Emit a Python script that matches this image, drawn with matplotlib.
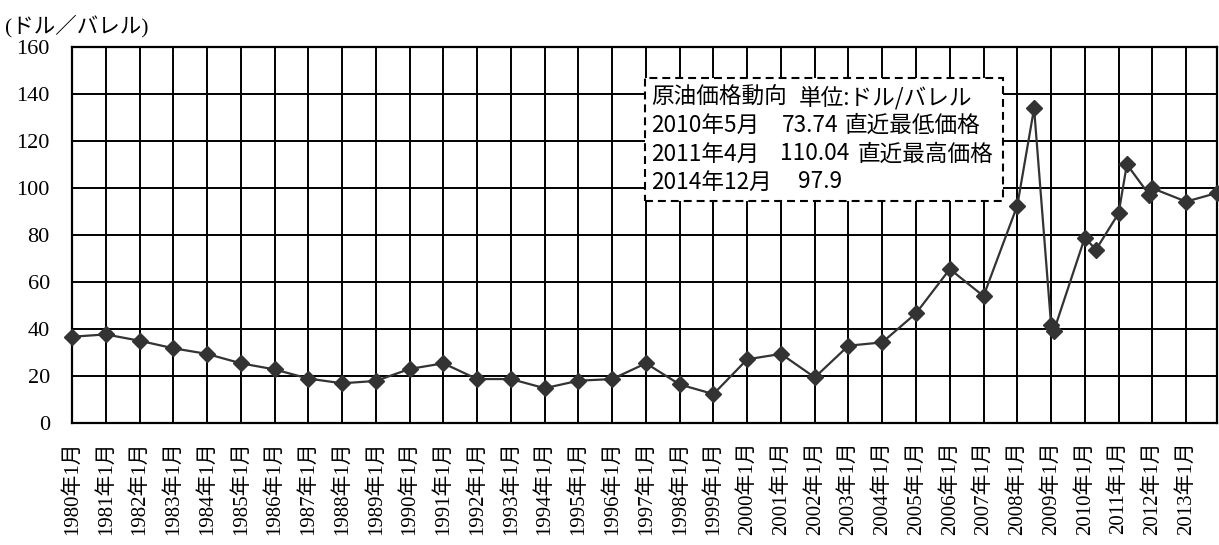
import matplotlib
matplotlib.use("Agg")
import matplotlib.pyplot as plt
from matplotlib.patches import Rectangle
from matplotlib.transforms import ScaledTranslation
import pandas as pd

# ---- data ----
years = [1980, 1981, 1982, 1983, 1984, 1985, 1986, 1987, 1988, 1989,
         1990, 1991, 1992, 1993, 1994, 1995, 1996, 1997, 1998, 1999,
         2000, 2001, 2002, 2003, 2004, 2005, 2006, 2007, 2008, 2008,
         2009, 2009, 2010, 2010, 2011, 2011, 2011, 2012, 2013, 2013]
months = [1, 1, 1, 1, 1, 1, 1, 1, 1, 1,
          1, 1, 1, 1, 1, 1, 1, 1, 1, 1,
          1, 1, 1, 1, 1, 1, 1, 1, 1, 7,
          1, 2, 1, 5, 1, 4, 12, 1, 1, 12]
prices = [36.7, 37.7, 35.0, 31.8, 29.4, 25.4, 22.8, 18.9, 16.9, 17.9,
          23.0, 25.4, 18.7, 18.7, 14.8, 18.0, 18.7, 25.4, 16.4, 12.3,
          27.1, 29.4, 19.4, 32.9, 34.3, 46.7, 65.5, 54.0, 92.5, 133.9,
          41.7, 39.3, 78.9, 73.74, 89.2, 110.04, 97.0, 99.9, 94.2, 97.9]
tick_years = list(range(1980, 2014))
tick_labels = [f"{y}年1月" for y in tick_years]
y_ticks = [0, 20, 40, 60, 80, 100, 120, 140, 160]
unit_label = "(ドル／バレル)"
box_lines = [
    ["原油価格動向", "単位:ドル/バレル"],
    ["2010年5月", "73.74", "直近最低価格"],
    ["2011年4月", "110.04", "直近最高価格"],
    ["2014年12月", "97.9"],
]

W, H = 1219, 545
fig = plt.figure(figsize=(W / 100, H / 100), dpi=100)
L, R, T, B = 72, 1217, 47, 423
ax = fig.add_axes([L / W, 1 - B / H, (R - L) / W, (B - T) / H])

dates = pd.to_datetime([f"{y}-{m:02d}-01" for y, m in zip(years, months)])
ax.plot(dates, prices, color="#333333", lw=1.6, marker="D", markersize=8,
        markerfacecolor="#333333", markeredgecolor="#333333", zorder=3,
        clip_on=False)

ax.set_ylim(0, 160)
ax.set_yticks(y_ticks)
ax.set_xlim(pd.Timestamp("1980-01-01"), pd.Timestamp("2013-12-01"))
tick_dates = pd.to_datetime([f"{y}-01-01" for y in tick_years])
ax.set_xticks(tick_dates)
ax.set_xticklabels(tick_labels, rotation=90, va="top", ha="center")

serif = ["Liberation Serif", "Noto Sans CJK JP"]
for lab in ax.get_xticklabels():
    lab.set_fontfamily(serif)
    lab.set_fontsize(15)
    lab.set_transform(lab.get_transform() + ScaledTranslation(-4 / 100, 0, fig.dpi_scale_trans))
for lab in ax.get_yticklabels():
    lab.set_fontfamily(serif)
    lab.set_fontsize(16)

ax.tick_params(axis="both", length=0)
ax.tick_params(axis="x", pad=13)
ax.tick_params(axis="y", pad=16)
ax.grid(True, color="black", lw=1.4)
ax.set_axisbelow(True)
for s in ax.spines.values():
    s.set_color("black")
    s.set_linewidth(1.6)

fig.text(5 / W, 1 - 26.5 / H, unit_label, fontfamily=serif, fontsize=15.5,
         va="center", ha="left")

# annotation box
bx0, bx1, by0, by1 = 645, 1003, 78, 201
rect = Rectangle((bx0 / W, 1 - by1 / H), (bx1 - bx0) / W, (by1 - by0) / H,
                 transform=fig.transFigure, facecolor="white", edgecolor="black",
                 lw=1.5, linestyle=(0, (3.8, 2.4)), zorder=5)
fig.add_artist(rect)

sans = ["Noto Sans CJK JP", "DejaVu Sans"]
line_y = [97.7, 125, 154, 182]
seg_x = [[651.5, 799], [651.5, 781.5, 845], [651.5, 780, 858], [651.5, 798]]
for row, ys, xs in zip(box_lines, line_y, seg_x):
    for txt, x in zip(row, xs):
        fig.text(x / W, 1 - ys / H, txt, fontfamily=sans, fontsize=16.3,
                 va="center", ha="left", zorder=6)

fig.savefig("out.png", dpi=100)
